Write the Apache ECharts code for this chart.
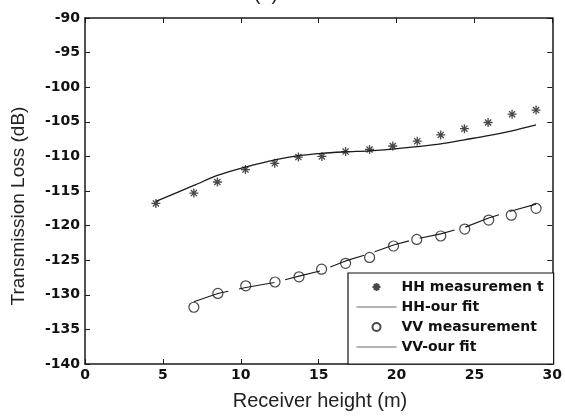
<!DOCTYPE html>
<html>
<head>
<meta charset="utf-8">
<script src="https://cdn.jsdelivr.net/npm/echarts@6/dist/echarts.min.js"></script>
<style>
  html, body { margin: 0; padding: 0; background: #fff; }
  #chart { width: 565px; height: 417px; }
</style>
</head>
<body>
<div id="chart"></div>
<script>
// HH polarisation
const hhX = [4.55, 6.99, 8.5, 10.3, 12.18, 13.7, 15.21, 16.73, 18.27, 19.76, 21.33, 22.84, 24.36, 25.88, 27.42, 28.96]
const hhMeas = [-116.8, -115.3, -113.7, -111.9, -111.0, -110.1, -110.0, -109.3, -109.0, -108.5, -107.8, -106.9, -106.0, -105.1, -103.9, -103.3]
const hhFit = [-116.5, -114.2, -112.75, -111.55, -110.5, -109.9, -109.55, -109.35, -109.2, -108.95, -108.6, -108.2, -107.6, -107.0, -106.3, -105.45]

// VV polarisation
const vvX = [6.99, 8.53, 10.32, 12.2, 13.74, 15.19, 16.73, 18.27, 19.81, 21.3, 22.84, 24.38, 25.92, 27.37, 28.96]
const vvMeas = [-131.8, -129.8, -128.7, -128.15, -127.4, -126.3, -125.45, -124.6, -122.95, -122.0, -121.5, -120.5, -119.2, -118.5, -117.5]
const vvFit = [-131.0, -129.8, -128.95, -128.2, -127.3, -126.5, -125.1, -124.05, -122.8, -121.9, -121.2, -120.25, -118.9, -117.9, -116.9]

const legendNames = ['HH measuremen t', 'HH-our fit', 'VV measurement', 'VV-our fit']

const pairs = (xs, ys) => xs.map((x, i) => [x, ys[i]])

const starPath = 'path://M5,0L5,10M0,5L10,5M1.6,1.6L8.4,8.4M1.6,8.4L8.4,1.6'
const ink = '#1a1a1a'
const tickFont = { fontFamily: 'DejaVu Sans', fontWeight: 'bold', fontSize: 14, color: '#111' }
const noSymbol = { color: 'rgba(0,0,0,0)', borderColor: 'rgba(0,0,0,0)', borderWidth: 0 }

function boxAxis(min, max, interval, position, showLabel) {
  return {
    type: 'value',
    min: min,
    max: max,
    interval: interval,
    position: position,
    axisLine: { onZero: false, lineStyle: { color: ink, width: 1.5 } },
    axisTick: { inside: true, length: 5, lineStyle: { color: ink, width: 1 } },
    axisLabel: Object.assign({ show: showLabel, margin: position === 'bottom' ? 4 : 5 }, tickFont),
    splitLine: { show: false }
  }
}

const chart = echarts.init(document.getElementById('chart'))

chart.setOption({
  animation: false,
  grid: { left: 85, top: 18, right: 12, bottom: 53 },
  xAxis: [boxAxis(0, 30, 5, 'bottom', true), boxAxis(0, 30, 5, 'top', false)],
  yAxis: [boxAxis(-140, -90, 5, 'left', true), boxAxis(-140, -90, 5, 'right', false)],
  legend: {
    orient: 'vertical',
    left: 348,
    top: 273,
    padding: [7, 10, 10, 8],
    itemGap: 6,
    itemWidth: 40,
    itemHeight: 8,
    backgroundColor: '#fff',
    borderColor: '#111',
    borderWidth: 1.2,
    borderRadius: 0,
    textStyle: tickFont,
    data: [
      { name: legendNames[0] },
      { name: legendNames[1], itemStyle: noSymbol, lineStyle: { color: '#666', width: 1, type: 'solid' } },
      { name: legendNames[2] },
      { name: legendNames[3], itemStyle: noSymbol, lineStyle: { color: '#666', width: 1, type: 'solid' } }
    ]
  },
  graphic: [
    {
      type: 'text', x: 266, y: 4,
      style: { text: '(a)', font: '20px "Liberation Sans"', fill: '#222', textAlign: 'center', textVerticalAlign: 'bottom' }
    },
    {
      type: 'text', x: 320, y: 401,
      style: { text: 'Receiver height (m)', font: '20px "Liberation Sans"', fill: '#222', textAlign: 'center', textVerticalAlign: 'middle' }
    },
    {
      type: 'text', x: 19, y: 206, rotation: Math.PI / 2,
      style: { text: 'Transmission Loss (dB)', font: '19px "Liberation Sans"', fill: '#222', textAlign: 'center', textVerticalAlign: 'middle' }
    }
  ],
  series: [
    {
      name: legendNames[0],
      type: 'scatter',
      symbol: starPath,
      symbolSize: 9,
      itemStyle: { color: ink, borderColor: ink, borderWidth: 1.3 },
      data: pairs(hhX, hhMeas),
      z: 3
    },
    {
      name: legendNames[1],
      type: 'line',
      symbol: 'none',
      smooth: 0.3,
      itemStyle: { color: ink },
      lineStyle: { color: ink, width: 1.3 },
      data: pairs(hhX, hhFit),
      z: 2
    },
    {
      name: legendNames[2],
      type: 'scatter',
      symbol: 'circle',
      symbolSize: 10,
      itemStyle: { color: 'rgba(0,0,0,0)', borderColor: ink, borderWidth: 1.2 },
      data: pairs(vvX, vvMeas),
      z: 3
    },
    {
      name: legendNames[3],
      type: 'line',
      symbol: 'none',
      itemStyle: { color: ink },
      lineStyle: { color: ink, width: 1.1, type: [36, 11] },
      data: pairs(vvX, vvFit),
      z: 2
    }
  ]
})
</script>
</body>
</html>
